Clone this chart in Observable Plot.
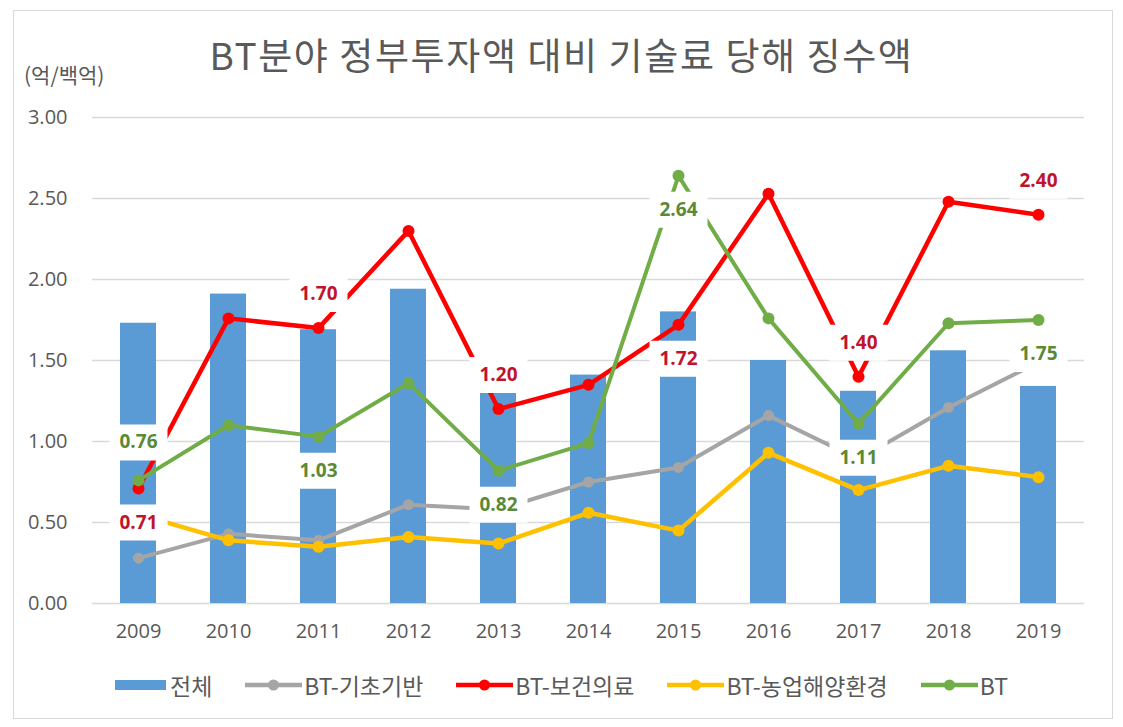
<!DOCTYPE html>
<html>
<head>
<meta charset="utf-8">
<script src="https://cdn.jsdelivr.net/npm/d3@7"></script>
<script src="https://cdn.jsdelivr.net/npm/@observablehq/plot@0.6"></script>
<style>
  body { margin: 0; background: #fff; }
  #wrap { position: relative; width: 1123px; height: 727px; overflow: hidden; font-family: "Noto Sans CJK KR", "Noto Sans", sans-serif; }
  #frame { position: absolute; left: 13px; top: 10px; width: 1098px; height: 707px; border: 1px solid #d9d9d9; }
  #title { position: absolute; left: 0; top: 36px; width: 1123px; text-align: center; font-size: 37px; line-height: 37px; letter-spacing: 1.6px; color: #595959; }
  #unit { position: absolute; left: 24px; top: 64px; font-size: 21px; line-height: 21px; color: #595959; }
  #chart { position: absolute; left: 0; top: 100px; }
  #legend { position: absolute; left: 0; top: 671px; width: 1123px; height: 28px; display: flex; justify-content: center; align-items: center; gap: 33px; font-size: 23px; color: #595959; }
  .item { display: flex; align-items: center; }
  .item svg { margin-right: 2px; }
</style>
</head>
<body>
<div id="wrap">
  <div id="frame"></div>
  <div id="title"></div>
  <div id="unit"></div>
  <div id="chart"></div>
  <div id="legend"></div>
</div>
<script>
// ---- data ----
const titleText = "BT분야 정부투자액 대비 기술료 당해 징수액";
const unitText = "(억/백억)";
const years = ["2009","2010","2011","2012","2013","2014","2015","2016","2017","2018","2019"];
const total  = [1.73, 1.91, 1.69, 1.94, 1.33, 1.41, 1.80, 1.50, 1.31, 1.56, 1.34]; // 전체
const basic  = [0.28, 0.43, 0.39, 0.61, 0.58, 0.75, 0.84, 1.16, 0.89, 1.21, 1.49]; // BT-기초기반
const health = [0.71, 1.76, 1.70, 2.30, 1.20, 1.35, 1.72, 2.53, 1.40, 2.48, 2.40]; // BT-보건의료
const agri   = [0.55, 0.39, 0.35, 0.41, 0.37, 0.56, 0.45, 0.93, 0.70, 0.85, 0.78]; // BT-농업해양환경
const bt     = [0.76, 1.10, 1.03, 1.36, 0.82, 0.99, 2.64, 1.76, 1.11, 1.73, 1.75]; // BT
const yTicks = [0, 0.5, 1.0, 1.5, 2.0, 2.5, 3.0];
const seriesNames = ["전체", "BT-기초기반", "BT-보건의료", "BT-농업해양환경", "BT"];
const seriesColors = ["#5b9bd5", "#a5a5a5", "#ff0000", "#ffc000", "#70ad47"];
// labelled points
const healthLabelAbove = ["2011","2013","2017","2019"];
const healthLabelBelow = ["2009","2015"];
const btLabelAbove = ["2009"];
const btLabelBelow = ["2011","2013","2015","2017","2019"];

// ---- table ----
const rows = years.map((year, i) => ({year, total: total[i], basic: basic[i], health: health[i], agri: agri[i], bt: bt[i]}));

document.getElementById("title").textContent = titleText;
document.getElementById("unit").textContent = unitText;

// rectangular label background symbol
const boxSymbol = {draw(context) { context.rect(-29, -18, 58, 36); }};

function series(key, color, width, r) {
  return [
    Plot.lineY(rows, {x: "year", y: key, stroke: color, strokeWidth: width}),
    Plot.dot(rows, {x: "year", y: key, fill: color, r: r})
  ];
}
function labelBoxes(key, list, dy) {
  return Plot.dot(rows.filter(d => list.includes(d.year)), {
    x: "year", y: key, dy: dy, symbol: boxSymbol, fill: "white", stroke: "none", r: 10
  });
}
function labels(key, list, color, dy) {
  return Plot.text(rows.filter(d => list.includes(d.year)), {
    x: "year", y: key, text: d => d[key].toFixed(2), dy: dy,
    fill: color, fontWeight: "bold", fontSize: 19, fontFamily: "Open Sans"
  });
}

const chart = Plot.plot({
  width: 1123,
  height: 560,
  marginTop: 17,
  marginBottom: 57,
  marginLeft: 92,
  marginRight: 39,
  style: {fontFamily: "Open Sans", fontSize: "20px", color: "#595959", background: "transparent"},
  x: {type: "band", domain: years, paddingInner: 0.6, paddingOuter: 0.3, tickSize: 0, tickPadding: 20, label: null},
  y: {domain: [0, 3], ticks: yTicks, tickFormat: d => d.toFixed(2), tickSize: 0, tickPadding: 25, label: null},
  marks: [
    Plot.ruleY(yTicks, {stroke: "#d9d9d9", strokeWidth: 1.5}),
    Plot.barY(rows, {x: "year", y: "total", fill: seriesColors[0]}),
    ...series("basic", seriesColors[1], 4, 5.5),
    ...series("health", seriesColors[2], 4.5, 6),
    ...series("agri", seriesColors[3], 4.5, 6),
    ...series("bt", seriesColors[4], 4, 6),
    labelBoxes("health", healthLabelAbove, -34),
    labelBoxes("health", healthLabelBelow, 34),
    labelBoxes("bt", btLabelAbove, -38),
    labelBoxes("bt", btLabelBelow, 34),
    labels("health", healthLabelAbove, "#c0142e", -34),
    labels("health", healthLabelBelow, "#c0142e", 34),
    labels("bt", btLabelAbove, "#5a8a35", -38),
    labels("bt", btLabelBelow, "#5a8a35", 34)
  ]
});
document.getElementById("chart").appendChild(chart);

// ---- legend ----
const legend = document.getElementById("legend");
seriesNames.forEach((name, i) => {
  const item = document.createElement("div");
  item.className = "item";
  const svg = i === 0
    ? `<svg width="53" height="14"><rect x="0" y="2" width="51" height="10" fill="${seriesColors[i]}"/></svg>`
    : `<svg width="57" height="14"><line x1="0" x2="57" y1="7" y2="7" stroke="${seriesColors[i]}" stroke-width="4.5"/><circle cx="28.5" cy="7" r="5.5" fill="${seriesColors[i]}"/></svg>`;
  item.innerHTML = svg + `<span>${name}</span>`;
  legend.appendChild(item);
});
</script>
</body>
</html>
